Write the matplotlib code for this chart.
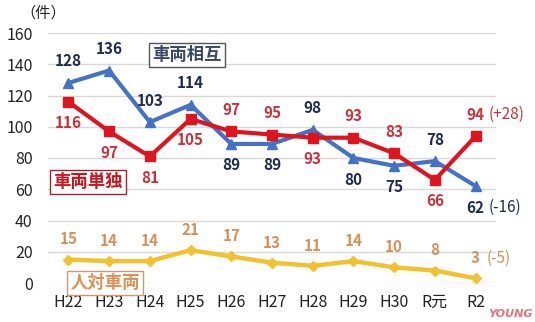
import matplotlib
matplotlib.use("Agg")
import matplotlib.pyplot as plt

plt.rcParams['font.family'] = ['Noto Sans CJK JP', 'DejaVu Sans']

years = ["H22", "H23", "H24", "H25", "H26", "H27", "H28", "H29", "H30", "R元", "R2"]
mutual = [128, 136, 103, 114, 89, 89, 98, 80, 75, 78, 62]        # 車両相互
single = [116, 97, 81, 105, 97, 95, 93, 93, 83, 66, 94]          # 車両単独
pedestrian = [15, 14, 14, 21, 17, 13, 11, 14, 10, 8, 3]          # 人対車両
yticks = [0, 20, 40, 60, 80, 100, 120, 140, 160]

# label placement: +1 above the marker, -1 below
mutual_pos = [1, 1, 1, 1, -1, -1, 1, -1, -1, 1, -1]
single_pos = [-1, -1, -1, -1, 1, 1, -1, 1, 1, -1, 1]

blue, blue_txt = "#4472C4", "#1F2A4F"
red, red_txt = "#E0141E", "#C8323C"
yel, yel_txt = "#F2C12E", "#D4925A"

W, H = 535, 322
fig = plt.figure(figsize=(W / 100, H / 100), dpi=100)
ax = fig.add_axes([48 / W, 1 - 283 / H, 448 / W, 250 / H])

x = list(range(len(years)))
ax.plot(x, mutual, color=blue, lw=3, marker="^", ms=7.5, zorder=3)
ax.plot(x, single, color=red, lw=3, marker="s", ms=6.5, zorder=4)
ax.plot(x, pedestrian, color=yel, lw=3.2, marker="D", ms=5.5, zorder=3)

ax.set_xlim(-0.5, len(years) - 0.5)
ax.set_ylim(0, 160)
ax.set_yticks(yticks)
ax.set_xticks(x)
ax.set_xticklabels(years)
ax.tick_params(length=0, labelsize=11.5, colors="#222222")
ax.tick_params(axis="y", pad=11)
ax.tick_params(axis="x", pad=8)
ax.grid(axis="y", color="#D9D9D9", lw=1)
ax.set_axisbelow(True)
for s in ax.spines.values():
    s.set_visible(False)

lab_kw = dict(textcoords="offset points", ha="center", va="center",
              fontsize=11, fontweight="bold")
for i, v in enumerate(mutual):
    ax.annotate(str(v), (i, v), xytext=(0, 15.5 * mutual_pos[i]), color=blue_txt, **lab_kw)
for i, v in enumerate(single):
    ax.annotate(str(v), (i, v), xytext=(0, 15.5 * single_pos[i]), color=red_txt, **lab_kw)
for i, v in enumerate(pedestrian):
    ax.annotate(str(v), (i, v), xytext=(0, 14.5), color=yel_txt, **lab_kw)

# year-on-year changes for R2
last = len(years) - 1
chg_kw = dict(textcoords="offset points", ha="left", va="center", fontsize=11)
ax.annotate("(+28)", (last, single[last]), xytext=(9, 15.5), color=red_txt, **chg_kw)
ax.annotate("(-16)", (last, mutual[last]), xytext=(9, -15.5), color=blue_txt, **chg_kw)
ax.annotate("(-5)", (last, pedestrian[last]), xytext=(8, 14.5), color=yel_txt, **chg_kw)

# series name boxes
box_kw = dict(fontsize=12.5, fontweight="bold", ha="center", va="center")
fig.text(187 / W, 1 - 55 / H, "車両相互", color="#3A4A66",
         bbox=dict(boxstyle="square,pad=0.18", fc="white", ec="#555555", lw=1), **box_kw)
fig.text(88 / W, 1 - 182 / H, "車両単独", color="#D0141E",
         bbox=dict(boxstyle="square,pad=0.18", fc="white", ec="#A0232B", lw=1), **box_kw)
fig.text(105 / W, 1 - 283 / H, "人対車両", color="#D9905A",
         bbox=dict(boxstyle="square,pad=0.18", fc="white", ec="#C99A70", lw=1), **box_kw)

fig.text(20 / W, 1 - 13 / H, "（件）", fontsize=11, color="#222222", ha="left", va="center")

fig.text(533 / W, 1 - 314 / H, "YOUNG", fontsize=8, fontweight="bold", style="italic",
         color="#E8707A", ha="right", va="center", family="DejaVu Sans")

fig.savefig("out.png", dpi=100)
